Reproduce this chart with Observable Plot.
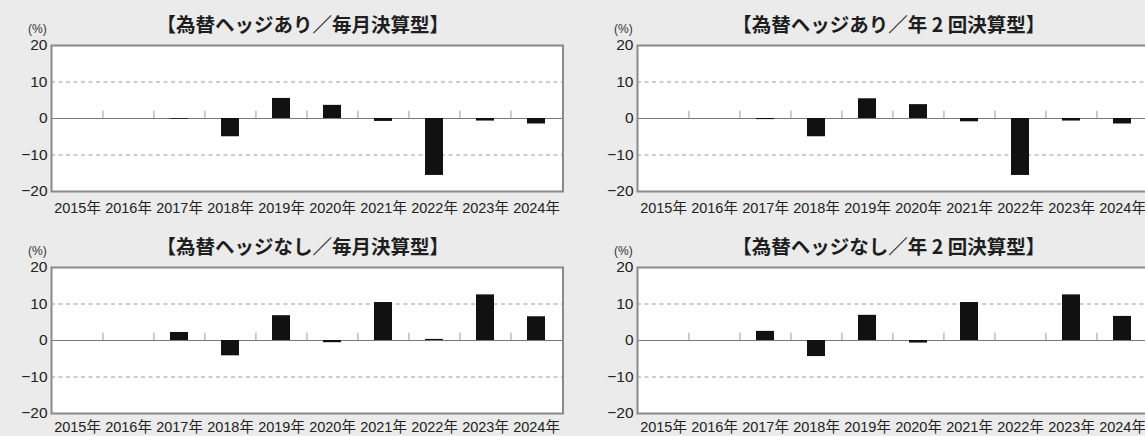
<!DOCTYPE html>
<html><head><meta charset="utf-8">
<script src="https://cdn.jsdelivr.net/npm/d3@7"></script>
<script src="https://cdn.jsdelivr.net/npm/@observablehq/plot@0.6"></script>
<style>
html,body{margin:0;padding:0;background:#ebebeb;width:1145px;height:436px;overflow:hidden;}
#wrap{position:relative;width:1145px;height:436px;overflow:hidden;}
.panel{position:absolute;}
.panel svg{max-width:none !important;}
.title{position:absolute;font-family:"Noto Sans CJK JP",sans-serif;font-weight:bold;font-size:19.5px;line-height:1;color:#1e1e1e;white-space:nowrap;transform:translateX(-50%);}
.unit{position:absolute;font-family:"Liberation Sans","Noto Sans CJK JP",sans-serif;font-size:12px;line-height:1;color:#333;}
</style>
</head><body><div id="wrap"></div>
<script>
const categories = ["2015年","2016年","2017年","2018年","2019年","2020年","2021年","2022年","2023年","2024年"];
const hedgedMonthly   = [null, null, -0.2, -5.0, 5.5, 3.6, -0.8, -15.6, -0.7, -1.5];
const hedgedSemi      = [null, null, -0.3, -5.0, 5.4, 3.8, -0.9, -15.6, -0.7, -1.5];
const unhedgedMonthly = [null, null, 2.2, -4.2, 6.8, -0.6, 10.4, 0.3, 12.5, 6.5];
const unhedgedSemi    = [null, null, 2.5, -4.4, 6.9, -0.7, 10.4, 0.0, 12.5, 6.6];
const titles = ["【為替ヘッジあり／毎月決算型】","【為替ヘッジあり／年 2 回決算型】","【為替ヘッジなし／毎月決算型】","【為替ヘッジなし／年 2 回決算型】"];
const yTicks = [-20, -10, 0, 10, 20];
const gridValues = [-10, 10];
const yDomain = [-20, 20];
const unitLabel = "(%)";

const panels = [
  {left: 0,   top: 0,   values: hedgedMonthly,   title: titles[0], ml: 51, pad: 11},
  {left: 585, top: 0,   values: hedgedSemi,      title: titles[1], ml: 52, pad: 11},
  {left: 0,   top: 222, values: unhedgedMonthly, title: titles[2], ml: 51, pad: 8},
  {left: 585, top: 222, values: unhedgedSemi,    title: titles[3], ml: 52, pad: 8}
];

const wrap = document.getElementById("wrap");
const W = 575, H = 214, plotW = 511.5;

for (const p of panels) {
  const data = categories.map((c, i) => ({year: c, value: p.values[i]})).filter(d => d.value != null);
  const bw = plotW / categories.length;
  const chart = Plot.plot({
    width: W, height: H,
    marginLeft: p.ml, marginRight: W - p.ml - plotW, marginTop: 45, marginBottom: H - 45 - 146,
    style: {background: "transparent", fontFamily: "'Liberation Sans','Noto Sans CJK JP',sans-serif", overflow: "visible", color: "#222", maxWidth: "none"},
    x: {domain: categories, paddingInner: 0.65, paddingOuter: 0.325, label: null},
    y: {domain: yDomain, label: null},
    marks: [
      Plot.frame({fill: "white", stroke: null}),
      Plot.ruleY(gridValues, {stroke: "#9a9a9a", strokeDasharray: "4,3.5", strokeWidth: 1}),
      Plot.ruleY([0], {stroke: "#777", strokeWidth: 1.2}),
      Plot.ruleX(categories.slice(1), {x: d => d, y1: 0, y2: 2, dx: -bw / 2, stroke: "#999", strokeWidth: 1}),
      Plot.barY(data, {x: "year", y: "value", fill: "#111"}),
      Plot.frame({stroke: "#8a8a8a", strokeWidth: 2}),
      Plot.axisX({tickSize: 0, tickPadding: p.pad, fontSize: 14.5, fill: "#222", label: null}),
      Plot.axisY({ticks: yTicks, tickSize: 0, tickPadding: 4, fontSize: 15.5, fill: "#222", label: null})
    ]
  });
  const div = document.createElement("div");
  div.className = "panel";
  div.style.left = p.left + "px";
  div.style.top = p.top + "px";
  div.style.width = W + "px";
  div.style.height = H + "px";
  div.appendChild(chart);
  wrap.appendChild(div);

  const t = document.createElement("div");
  t.className = "title";
  t.textContent = p.title;
  t.style.left = (p.left + p.ml + plotW / 2 - 4) + "px";
  t.style.top = (p.top + 14) + "px";
  wrap.appendChild(t);

  const u = document.createElement("div");
  u.className = "unit";
  u.textContent = unitLabel;
  u.style.left = (p.left + p.ml - 23) + "px";
  u.style.top = (p.top + 23) + "px";
  wrap.appendChild(u);
}
</script>
</body></html>
